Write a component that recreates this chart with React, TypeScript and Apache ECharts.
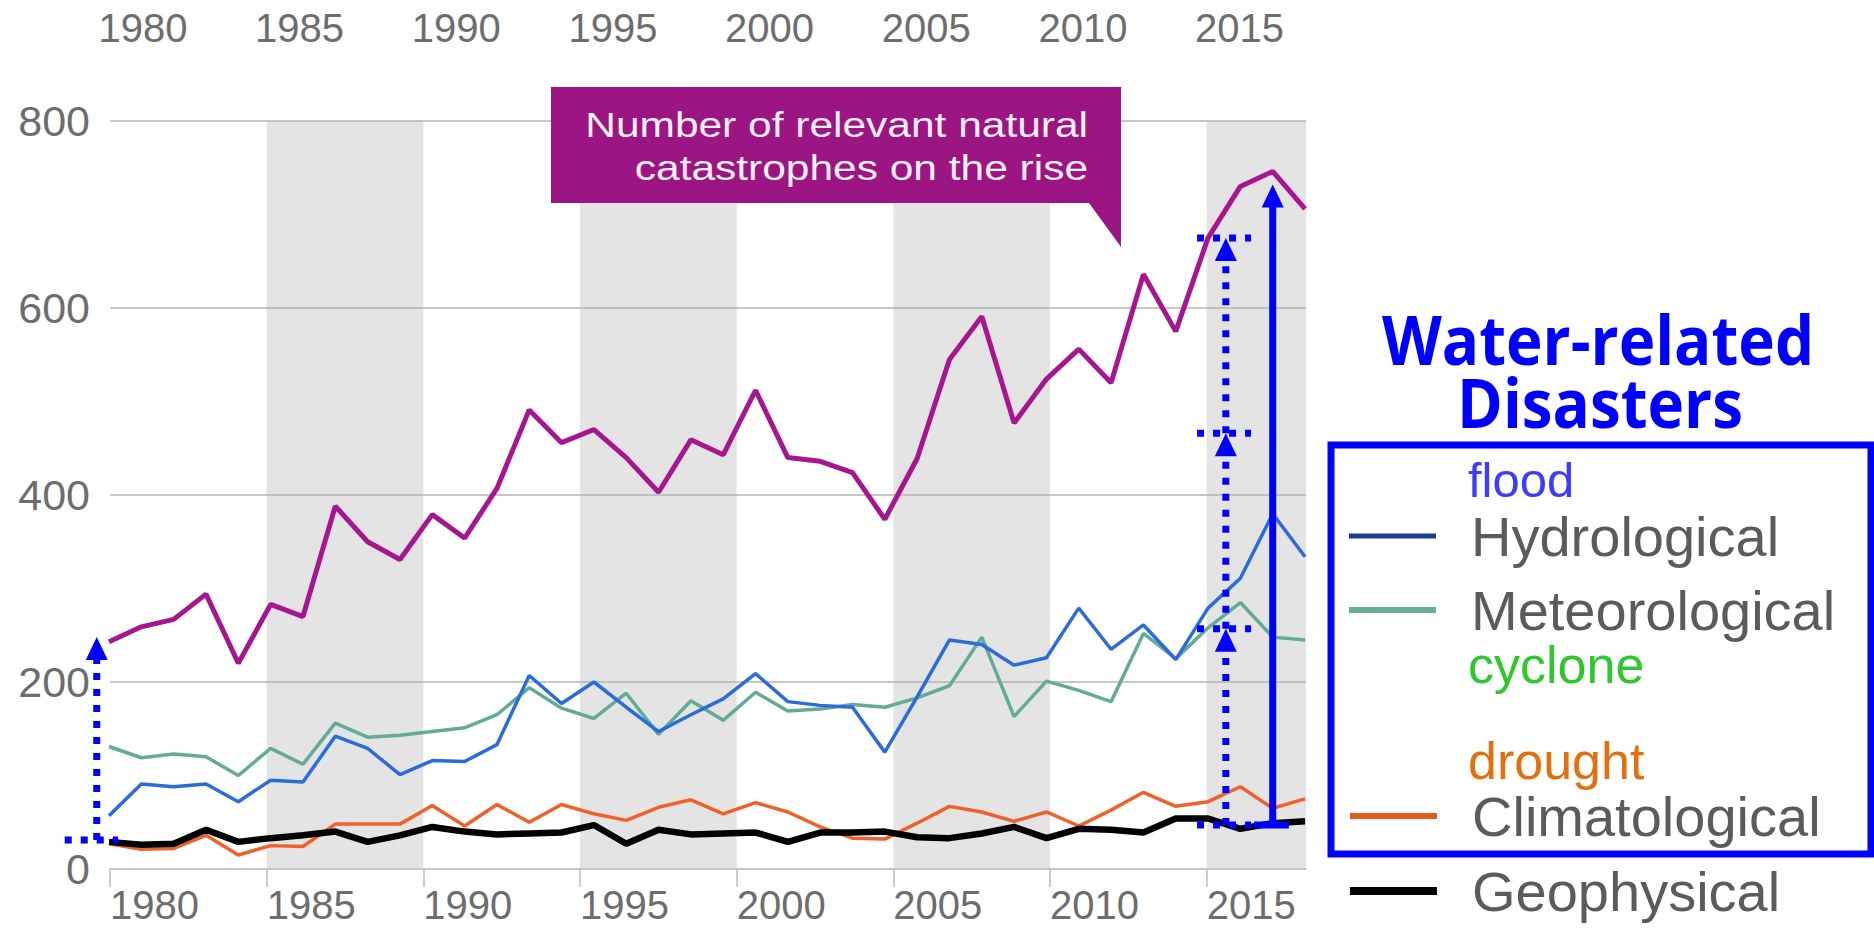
import React, { useEffect, useRef } from "react";
import * as echarts from "echarts";

// ---- data ----
const years = [1980, 1981, 1982, 1983, 1984, 1985, 1986, 1987, 1988, 1989, 1990, 1991, 1992, 1993, 1994, 1995, 1996, 1997, 1998, 1999, 2000, 2001, 2002, 2003, 2004, 2005, 2006, 2007, 2008, 2009, 2010, 2011, 2012, 2013, 2014, 2015, 2016, 2017];
const totalEvents = [243, 259, 267, 294, 220, 283, 270, 388, 350, 331, 379, 354, 407, 491, 456, 470, 440, 403, 459, 443, 512, 440, 436, 424, 374, 439, 545, 591, 477, 524, 556, 520, 636, 575, 675, 730, 746, 706];
const hydrological = [57, 91, 88, 91, 72, 95, 93, 142, 129, 101, 116, 115, 133, 207, 177, 200, 173, 147, 165, 182, 209, 179, 175, 173, 125, 184, 245, 240, 218, 226, 279, 235, 261, 224, 279, 311, 380, 334];
const meteorological = [131, 119, 123, 120, 100, 129, 112, 156, 141, 143, 147, 151, 165, 194, 172, 161, 188, 144, 180, 159, 189, 169, 171, 176, 173, 183, 196, 248, 163, 201, 191, 179, 252, 225, 258, 285, 248, 245];
const climatological = [27, 21, 22, 36, 15, 25, 24, 48, 48, 48, 68, 46, 69, 50, 69, 59, 52, 66, 74, 59, 71, 61, 45, 33, 32, 49, 67, 61, 51, 61, 46, 63, 82, 67, 72, 88, 65, 75];
const geophysical = [29, 26, 27, 42, 29, 33, 36, 40, 29, 36, 45, 40, 37, 38, 39, 47, 27, 42, 37, 38, 39, 29, 39, 39, 40, 34, 33, 38, 45, 33, 43, 42, 39, 54, 54, 43, 49, 51];

const tickYears = [1980, 1985, 1990, 1995, 2000, 2005, 2010, 2015];
const shadedPeriods = [[1985, 1990], [1995, 2000], [2005, 2010], [2015, 2018.17]];

// annotation arrows (data coordinates)
const leftArrow = { year: 1979.62, from: 31, to: 248, hFrom: 1978.63, hTo: 1980.28 };
const stackedYear = 2014.55;
const stackedLevels = [47, 257, 466, 675];
const stackedTick = [2013.66, 2015.33];
const totalArrow = { year: 2016, from: 47, to: 732, hFrom: 2015.42, hTo: 2016.5 };

const DATA_X_MIN = 1980.03;
const DATA_X_MAX = 2017.03;
const TICK_X_MIN = 1980;
const TICK_X_MAX = 2018.17;
const TOP_SHIFT = 1.05;

const GRAY = "#6d6d6d";
const BLUE = "#0000ff";
const LABEL_FONT = "Liberation Sans";

const pairs = (vals: number[]) => years.map((y, i) => [y, vals[i]]);

export default function App() {
  const ref = useRef<HTMLDivElement>(null);

  useEffect(() => {
    const chart = echarts.init(ref.current as HTMLDivElement, null, { renderer: "svg" });

    const axisLabelBase = { fontSize: 40, color: GRAY, fontFamily: LABEL_FONT };
    const legendText = { fontSize: 56, lineHeight: 56, color: "#5b5b5b", fontFamily: LABEL_FONT, padding: [0, 0, 0, 30] };
    const legendBase = { orient: "horizontal", icon: "rect", itemWidth: 87, padding: 0, selectedMode: false, itemStyle: { borderWidth: 0 }, textStyle: legendText };

    const option: any = {
      animation: false,
      backgroundColor: "#ffffff",
      grid: { left: 110, top: 121, width: 1196, height: 748, containLabel: false, outerBoundsMode: "none" },
      xAxis: [
        { type: "value", min: DATA_X_MIN, max: DATA_X_MAX, show: false },
        {
          type: "value", position: "bottom", min: TICK_X_MIN, max: TICK_X_MAX,
          axisLine: { show: true, onZero: false, lineStyle: { color: "#c6c6c6", width: 2 } },
          axisTick: { show: true, length: 18, customValues: tickYears, lineStyle: { color: "#bdbdbd", width: 1.5 } },
          axisLabel: { ...axisLabelBase, customValues: tickYears, align: "left", margin: 16, formatter: (v: number) => String(Math.round(v)) },
          splitLine: { show: false },
        },
        {
          type: "value", position: "top", min: TICK_X_MIN - TOP_SHIFT, max: TICK_X_MAX - TOP_SHIFT,
          axisLine: { show: false }, axisTick: { show: false },
          axisLabel: { ...axisLabelBase, customValues: tickYears, margin: 73, formatter: (v: number) => String(Math.round(v)) },
          splitLine: { show: false },
        },
      ],
      yAxis: {
        type: "value", min: 0, max: 800, interval: 200,
        axisLine: { show: false }, axisTick: { show: false },
        splitLine: { show: true, lineStyle: { color: "#b5b5b5", width: 1.5 } },
        axisLabel: { ...axisLabelBase, fontSize: 43, margin: 20 },
      },
      legend: [
        { ...legendBase, left: 1349, top: 536 - 28, itemHeight: 5, data: [{ name: "Hydrological", itemStyle: { color: "#1d3d91" } }] },
        { ...legendBase, left: 1349, top: 610 - 28, itemHeight: 6, data: [{ name: "Meteorological", itemStyle: { color: "#67ad97" } }] },
        { ...legendBase, left: 1350, top: 816 - 28, itemHeight: 6, data: [{ name: "Climatological", itemStyle: { color: "#e85a1c" } }] },
        { ...legendBase, left: 1350, top: 891 - 28, itemHeight: 8, data: [{ name: "Geophysical", itemStyle: { color: "#000000" } }] },
      ],
      series: [
        {
          name: "bands", type: "custom", xAxisIndex: 1, yAxisIndex: 0, z: -1, silent: true,
          data: shadedPeriods,
          renderItem: (params: any, api: any) => {
            const p0 = api.coord([api.value(0), 800]);
            const p1 = api.coord([api.value(1), 0]);
            return { type: "rect", shape: { x: p0[0], y: p0[1], width: p1[0] - p0[0], height: p1[1] - p0[1] }, style: { fill: "#e4e4e4" } };
          },
        },
        { name: "Meteorological", type: "line", xAxisIndex: 0, data: pairs(meteorological), symbol: "none", clip: false, z: 3, lineStyle: { color: "#62ab94", width: 3.5 }, itemStyle: { color: "#62ab94" } },
        { name: "Hydrological", type: "line", xAxisIndex: 0, data: pairs(hydrological), symbol: "none", clip: false, z: 4, lineStyle: { color: "#2a6cdc", width: 3.5 }, itemStyle: { color: "#2a6cdc" } },
        { name: "Climatological", type: "line", xAxisIndex: 0, data: pairs(climatological), symbol: "none", clip: false, z: 5, lineStyle: { color: "#f0612a", width: 3.5 }, itemStyle: { color: "#f0612a" } },
        { name: "Geophysical", type: "line", xAxisIndex: 0, data: pairs(geophysical), symbol: "none", clip: false, z: 6, lineStyle: { color: "#000000", width: 6.5 }, itemStyle: { color: "#000000" } },
        { name: "Total", type: "line", xAxisIndex: 0, data: pairs(totalEvents), symbol: "none", clip: false, z: 7, lineStyle: { color: "#a8168f", width: 5 }, itemStyle: { color: "#a8168f" } },
      ],
    };

    chart.setOption(option);

    const px = (x: number, y: number) => chart.convertToPixel({ xAxisIndex: 0, yAxisIndex: 0 }, [x, y]) as number[];

    const dotted = { stroke: BLUE, lineWidth: 7, lineDash: [7, 9] };
    const head = (x: number, y: number) => ({
      type: "polygon", z: 120,
      shape: { points: [[x, y], [x - 11, y + 23], [x + 11, y + 23]] },
      style: { fill: BLUE },
    });
    const line = (a: number[], b: number[], style: any) => ({
      type: "line", z: 110, shape: { x1: a[0], y1: a[1], x2: b[0], y2: b[1] }, style,
    });

    const arrows: any[] = [];
    // left arrow
    {
      const b = px(leftArrow.year, leftArrow.from);
      const t = px(leftArrow.year, leftArrow.to);
      arrows.push(line(b, [t[0], t[1] + 22], dotted));
      arrows.push(head(t[0], t[1]));
      arrows.push(line(px(leftArrow.hFrom, leftArrow.from), px(leftArrow.hTo, leftArrow.from), dotted));
    }
    // stacked dotted arrows
    for (let i = 0; i < stackedLevels.length - 1; i++) {
      const b = px(stackedYear, stackedLevels[i]);
      const t = px(stackedYear, stackedLevels[i + 1]);
      arrows.push(line(b, [t[0], t[1] + 22], dotted));
      arrows.push(head(t[0], t[1]));
    }
    stackedLevels.forEach((lv) => {
      arrows.push(line(px(stackedTick[0], lv), px(stackedTick[1], lv), dotted));
    });
    // total solid arrow
    {
      const b = px(totalArrow.year, totalArrow.from);
      const t = px(totalArrow.year, totalArrow.to);
      arrows.push(line(b, [t[0], t[1] + 22], { stroke: BLUE, lineWidth: 7 }));
      arrows.push(head(t[0], t[1]));
      arrows.push(line(px(totalArrow.hFrom, totalArrow.from), px(totalArrow.hTo, totalArrow.from), { stroke: BLUE, lineWidth: 7 }));
    }

    const statics: any[] = [
      // callout
      {
        type: "polygon", z: 100,
        shape: { points: [[551, 87], [1121, 87], [1121, 247], [1089, 203], [551, 203]] },
        style: { fill: "#9b1583" },
      },
      {
        type: "text", z: 101, x: 1088, y: 124.5, scaleX: 1.18,
        style: { text: "Number of relevant natural", font: `36px "${LABEL_FONT}"`, fill: "#fdf0f8", align: "right", verticalAlign: "middle" },
      },
      {
        type: "text", z: 101, x: 1088, y: 167.5, scaleX: 1.18,
        style: { text: "catastrophes on the rise", font: `36px "${LABEL_FONT}"`, fill: "#fdf0f8", align: "right", verticalAlign: "middle" },
      },
      // title
      {
        type: "text", z: 100, x: 1598, y: 339, scaleX: 0.91,
        style: { text: "Water-related", font: 'bold 68px "Open Sans"', fill: BLUE, align: "center", verticalAlign: "middle" },
      },
      {
        type: "text", z: 100, x: 1600, y: 402, scaleX: 0.91,
        style: { text: "Disasters", font: 'bold 68px "Open Sans"', fill: BLUE, align: "center", verticalAlign: "middle" },
      },
      // legend frame
      {
        type: "rect", z: 100,
        shape: { x: 1331, y: 445, width: 540, height: 409 },
        style: { fill: "none", stroke: BLUE, lineWidth: 7 },
      },
      { type: "text", z: 100, x: 1468, y: 480, style: { text: "flood", font: `49px "${LABEL_FONT}"`, fill: "#3c3cff", align: "left", verticalAlign: "middle" } },
      { type: "text", z: 100, x: 1468, y: 665, style: { text: "cyclone", font: `52px "${LABEL_FONT}"`, fill: "#2ec82e", align: "left", verticalAlign: "middle" } },
      { type: "text", z: 100, x: 1468, y: 761, style: { text: "drought", font: `52px "${LABEL_FONT}"`, fill: "#e2700c", align: "left", verticalAlign: "middle" } },
    ];

    chart.setOption({ graphic: [...statics, ...arrows] });

    return () => chart.dispose();
  }, []);

  return <div ref={ref} style={{ position: "absolute", left: 0, top: 0, width: 1874, height: 931 }} />;
}
